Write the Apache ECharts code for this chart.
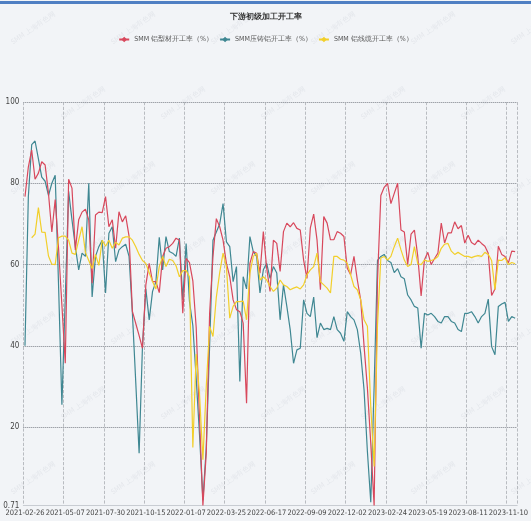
<!DOCTYPE html>
<html>
<head>
<meta charset="utf-8">
<script src="https://cdn.jsdelivr.net/npm/echarts@6/dist/echarts.min.js"></script>
<style>
html,body{margin:0;padding:0;background:#f2f4f7;}
#chart{width:531px;height:521px;}
</style>
</head>
<body>
<div id="chart"></div>
<script>
// ---- data ----
const titleText = '下游初级加工开工率';
const seriesNames = ['SMM 铝型材开工率（%）', 'SMM压铸铝开工率（%）', 'SMM 铝线缆开工率（%）'];
// labelled dates on the category axis (every 12th category)
const tickLabels = ['2021-02-26','2021-05-07','2021-07-30','2021-10-15','2022-01-07','2022-03-25',
  '2022-06-17','2022-09-09','2022-12-02','2023-02-24','2023-05-19','2023-08-11','2023-11-10'];
const tailDates = ['2023-11-17','2023-11-24'];

const redValues = [
76.7, 84, 88.2, 81, 82.5, 85.3, 84.5, 77.5, 68, 76,
64, 50, 35.7, 81, 78.8, 63.6, 71, 72.9, 73.6, 71,
55.4, 72.2, 72.9, 72.8, 76.7, 69.3, 71, 64, 73, 70.5,
72, 67, 48.5, 45.5, 42.5, 39.4, 55, 60.3, 55.8, 55.8,
53.1, 62, 64, 64.4, 65.2, 66.5, 66, 48, 61.5, 60.5,
56, 44.5, 22, 0.71, 13.6, 48, 62, 71.3, 69.3, 66,
60.3, 57, 51.3, 48.9, 48.4, 45.6, 25.9, 60.3, 63.2, 62.8,
57.9, 68.1, 59.1, 53.4, 66, 65.2, 58.3, 68.1, 70.2, 69.3,
70.3, 68.9, 68.5, 61.1, 56.6, 69, 72.4, 66, 53.8, 71.8,
70.2, 66.1, 66.1, 68.1, 67.7, 66.9, 59.1, 57.5, 62, 56.2,
51.3, 40, 29.6, 16, 0.71, 56, 77, 79, 80, 75,
77.5, 80, 68.5, 68, 60, 67.5, 68.5, 62, 52.3, 61.2,
63, 60, 61.5, 62.8, 70.2, 65.3, 67.8, 67.8, 70.5, 68.8,
69.6, 65.3, 67.2, 65.4, 64.9, 66, 65.2, 64.5, 62.8, 52.4,
54, 64.5, 62.5, 62, 60.4, 63.3, 63.2
];
const tealValues = [
40, 76.7, 89.5, 90.4, 86, 81.5, 80.5, 77, 80, 82,
55, 25.5, 52, 78, 71, 64.4, 58.7, 62.8, 62, 80,
52, 62, 64.4, 66, 53, 67.7, 69.3, 60.7, 63.6, 64.4,
65, 62, 48, 31, 13.6, 40, 54, 46.4, 53.4, 55.8,
66.7, 58.7, 66.9, 63.2, 62.8, 62, 66.5, 51.3, 65.2, 50.9,
45, 32, 18, 2, 15, 40, 66, 68, 70, 75,
65.6, 64.4, 55.8, 59.5, 31.2, 57, 54, 66.9, 63.2, 62,
53, 58.7, 60.3, 56.6, 59.5, 57.9, 46.4, 55, 49.7, 44,
35.7, 39, 39.4, 51.3, 48, 47.2, 52, 42, 45.6, 44,
44.3, 44, 47.2, 44, 43.1, 41.1, 48.4, 47.2, 46.4, 44,
38.2, 29.2, 14, 1.5, 30, 61, 62, 62.5, 61, 60.5,
58, 59, 57, 56.5, 52.5, 51.3, 49.7, 49.3, 39.4, 48,
47.6, 48, 47.2, 46, 45.6, 47.2, 47.2, 46, 45.6, 44,
43.5, 48, 48, 48.4, 47.2, 45.6, 47.2, 48, 51.5, 39.8,
37.8, 49.7, 50.3, 50.7, 46, 47.2, 46.8
];
const yellowValues = [
null, null, 66.6, 67.5, 74, 68, 67.9, 62.1, 60.1, 60,
66.6, 67, 67, 66, 62.8, 62.5, 66, 69.3, 63, 61,
59, 62.5, 59.8, 66, 64.5, 66, 64, 65.5, 64.8, 66.5,
66.8, 66.8, 66, 64.4, 62.5, 61, 60.3, 58, 55.8, 54,
59.5, 62, 59.5, 61.3, 61, 59.7, 57, 58.5, 58.5, 57,
15, 38, 28, 12, 30, 44.8, 42.3, 52, 58, 62.8,
59.5, 46.8, 49.7, 50.9, 50.9, 51, 46.4, 57.9, 62, 62.8,
56.2, 57, 56.2, 54.6, 53.4, 54.2, 56.2, 55, 54.6, 53.8,
54.2, 54.5, 54, 55, 57.5, 58.7, 59.5, 62.8, 55.8, 55,
54.2, 53, 62, 62, 61.3, 61.1, 60.3, 57.5, 54.6, 53.8,
51.3, 46.4, 44.8, 25, 10.3, 45, 61.6, 62, 61.1, 62,
64.4, 66.5, 63.6, 61.1, 59.5, 60, 64.4, 60.2, 60, 61.1,
60.8, 61, 61.3, 62, 64, 65, 65.2, 63.3, 62.5, 63,
62.5, 62, 62, 61.7, 62, 62.2, 62, 63, 62.5, 61,
53.8, 61.1, 61, 61.7, 60, 60.5, 60.2
];

// ---- categories: 12 report dates between consecutive labelled dates ----
function fmt(t){ const d = new Date(t); return d.toISOString().slice(0,10); }
const categories = [];
for (let a = 0; a < tickLabels.length - 1; a++) {
  const d0 = Date.parse(tickLabels[a] + 'T00:00:00Z'), d1 = Date.parse(tickLabels[a+1] + 'T00:00:00Z');
  const days = (d1 - d0) / 864e5;
  for (let k = 0; k < 12; k++) categories.push(fmt(d0 + Math.round(k * days / 12) * 864e5));
}
categories.push(tickLabels[tickLabels.length - 1]);
tailDates.forEach(d => categories.push(d));

const colors = ['#d8485c', '#3f8792', '#f2cf2a'];
const font = "'Liberation Sans Narrow','DejaVu Sans Condensed','Liberation Sans',sans-serif";

// faint watermark decoration
const marks = [];
for (let r = 0; r < 7; r++) {
  for (let c = 0; c < 6; c++) {
    marks.push({
      type: 'text', x: 10 + c * 100 + (r % 2) * 50, y: 40 + r * 75, rotation: 0.6, silent: true, z: 0,
      style: { text: 'SMM 上海有色网', fill: 'rgba(110,120,140,0.10)', fontSize: 7, fontFamily: font }
    });
  }
}
marks.push({ type: 'rect', shape: { x: 0, y: 1, width: 531, height: 3 }, style: { fill: '#4f7fc3' }, silent: true });

const chart = echarts.init(document.getElementById('chart'), null, { renderer: 'canvas' });
chart.setOption({
  backgroundColor: '#f2f4f7',
  animation: false,
  color: colors,
  title: {
    text: titleText, left: 'center', top: 8,
    textStyle: { fontSize: 8, fontWeight: 'bold', color: '#333', fontFamily: font }
  },
  legend: {
    top: 31, left: 'center', itemWidth: 10, itemHeight: 7, itemGap: 6,
    textStyle: { fontSize: 7, color: '#555', fontFamily: font },
    data: seriesNames
  },
  graphic: marks,
  grid: { left: 23.3, right: 11, top: 102, bottom: 15.5, containLabel: false },
  xAxis: {
    type: 'category', data: categories, boundaryGap: true,
    axisLine: { show: true, lineStyle: { color: '#c8ccd2' } },
    axisTick: { show: false },
    axisLabel: { interval: 11, fontSize: 7.5, color: '#444', margin: 4, fontFamily: font,
      showMinLabel: true, hideOverlap: false },
    splitLine: { show: true, interval: 11, lineStyle: { type: 'dashed', color: '#a9adb3', width: 0.8 } }
  },
  yAxis: {
    type: 'value', min: 'dataMin', max: 100,
    axisLine: { show: false }, axisTick: { show: false },
    axisLabel: { fontSize: 8, color: '#444', margin: 4, fontFamily: font },
    splitLine: { show: true, lineStyle: { type: 'dotted', color: '#7c8088', width: 1 } }
  },
  series: [
    { name: seriesNames[0], type: 'line', data: redValues, symbol: 'diamond', showSymbol: false, lineStyle: { width: 1.2 }, z: 3 },
    { name: seriesNames[1], type: 'line', data: tealValues, symbol: 'diamond', showSymbol: false, lineStyle: { width: 1.2 }, z: 2 },
    { name: seriesNames[2], type: 'line', data: yellowValues, symbol: 'diamond', showSymbol: false, lineStyle: { width: 1.2 }, z: 4 }
  ]
});
</script>
</body>
</html>
